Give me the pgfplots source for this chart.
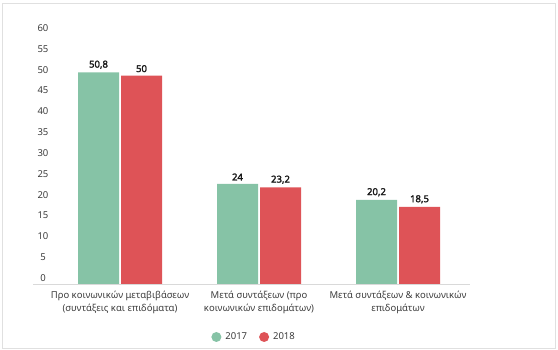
\documentclass[border=0pt]{standalone}
\usepackage{pgfplots}
\pgfplotsset{compat=1.18}
\usepackage{fontspec}
\setmainfont{Noto Sans}
\newfontfamily\bfnoto{Noto Sans}[FakeBold=2.2]
\definecolor{cg}{RGB}{134,195,166}
\definecolor{cr}{RGB}{222,83,87}
\definecolor{tx}{RGB}{60,60,60}
\begin{document}
\begin{tikzpicture}[x=1pt,y=1pt]
\path (0,0) rectangle (558,350);
\draw[black!12, line width=0.8pt] (2,2) rectangle (555,347);
\begin{axis}[
  at={(33pt,66pt)}, anchor=south west,
  scale only axis, width=437pt, height=250pt,
  xmin=-0.626, xmax=2.518, ymin=0, ymax=60,
  ybar=2pt, bar width=41pt,
  axis x line*=bottom, axis y line*=left,
  x axis line style={draw=black!15, line width=0.8pt},
  y axis line style={draw=none},
  major tick length=0pt,
  xtick={0,1,2},
  xticklabels={{Προ κοινωνικών μεταβιβάσεων\\(συντάξεις και επιδόματα)},{Μετά συντάξεων (προ\\κοινωνικών επιδομάτων)},{Μετά συντάξεων \& κοινωνικών\\επιδομάτων}},
  xticklabel style={align=center, font=\fontsize{9.5}{12.5}\selectfont, text=tx, yshift=-4pt},
  ytick={0,5,...,60},
  yticklabel style={anchor=center, xshift=10pt, yshift=6pt, font=\fontsize{9.5}{11}\selectfont, text=tx},
  /pgf/number format/assume math mode=true,
  /pgf/number format/use comma,
  nodes near coords={\pgfmathprintnumber{\pgfplotspointmeta}},
  every node near coord/.append style={font=\bfnoto\fontsize{9.5}{11}\selectfont, text=black!90},
  legend columns=2,
  legend style={at={(0.506,-0.212)}, anchor=center, draw=none, font=\fontsize{9.5}{11}\selectfont, text=tx, /tikz/every even column/.append style={column sep=10pt}, /tikz/every odd column/.append style={column sep=2pt}},
  legend image code/.code={\fill[#1] (0.4em,0) circle (5pt);},
]
\addplot[fill=cg, draw=none] coordinates {(0,50.8) (1,24) (2,20.2)};
\addplot[fill=cr, draw=none] coordinates {(0,50) (1,23.2) (2,18.5)};
\legend{2017,2018}
\end{axis}
\end{tikzpicture}
\end{document}
